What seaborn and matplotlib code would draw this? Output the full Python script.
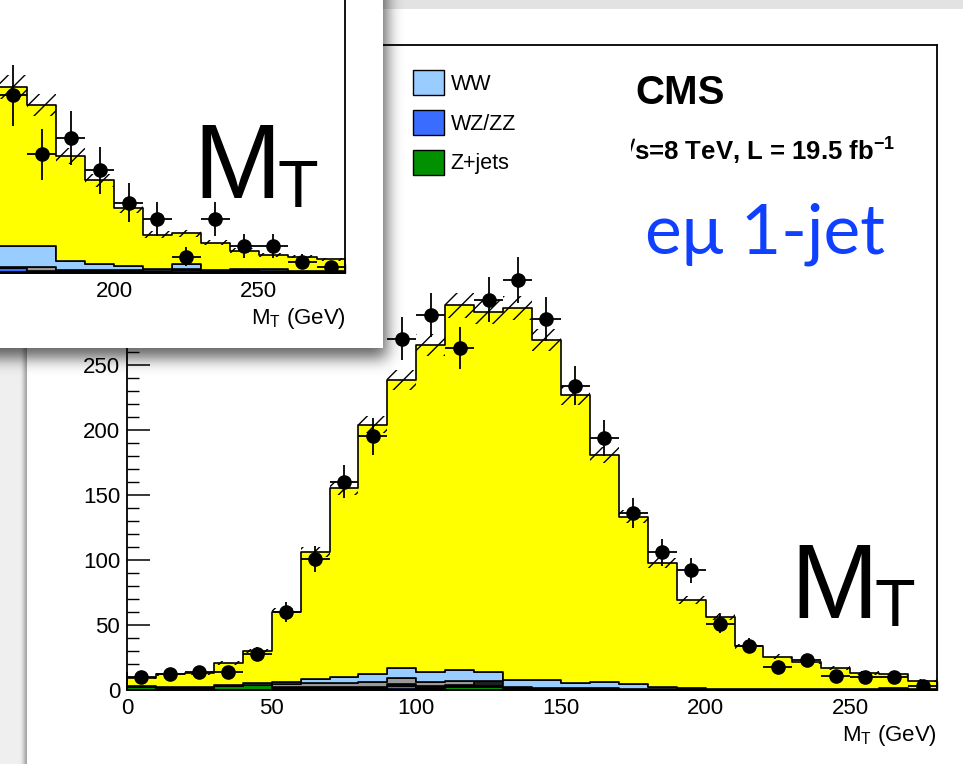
import math
import numpy as np
import pandas as pd
import matplotlib
matplotlib.use("Agg")
import matplotlib.pyplot as plt
from matplotlib.patches import Patch, Rectangle
from matplotlib.transforms import Bbox
import seaborn as sns

# ---------------- data: eμ 1-jet, M_T in 10 GeV bins ----------------
bin_width = 10
mt_low_main = [0, 10, 20, 30, 40, 50, 60, 70, 80, 90, 100, 110, 120, 130,
               140, 150, 160, 170, 180, 190, 200, 210, 220, 230, 240, 250, 260, 270]
data_main = [10, 12, 14, 14, 28, 60, 101, 160, 195, 270, 288, 263, 300, 315,
             285, 234, 194, 136, 106, 92, 51, 34, 18, 23, 11, 10, 10, 3]
data_err_main = [3.2, 3.5, 3.7, 3.7, 5.3, 7.7, 10.0, 12.6, 14.0, 16.4, 17.0, 16.2, 17.3, 17.7,
                 16.9, 15.3, 13.9, 11.7, 10.3, 9.6, 7.1, 5.8, 4.2, 4.8, 3.3, 3.2, 3.2, 1.7]
mc_total_main = [9.5, 12.0, 13.3, 20.5, 30.0, 60.0, 106.0, 155.0, 204.0, 238.5, 265.0, 295.6, 290.5, 293.6,
                 268.7, 226.4, 180.8, 133.3, 97.4, 69.2, 56.4, 33.8, 25.6, 21.8, 17.2, 13.3, 12.3, 7.2]
mc_unc_main = [1.3, 1.3, 1.4, 1.6, 1.8, 2.7, 4.0, 5.3, 6.7, 7.7, 8.4, 9.3, 9.1, 9.2,
               8.5, 7.3, 6.1, 4.7, 3.7, 2.9, 2.6, 1.9, 1.7, 1.6, 1.5, 1.4, 1.3, 1.2]
ww_main = [0.3, 0.3, 0.4, 0.5, 0.8, 1.8, 3.1, 4.6, 6.1, 7.7, 7.4, 8.7, 6.9, 5.2,
           5.9, 3.7, 4.5, 3.3, 1.6, 0.5, 0.4, 0.4, 0.3, 0.3, 0.3, 0.2, 0.2, 0.2]
wjets_main = [0.2, 0.2, 0.2, 0.2, 0.2, 2.0, 2.5, 2.6, 3.9, 4.9, 3.4, 2.6, 0.0, 0.8,
              0.6, 0.4, 0.4, 0.3, 0.3, 0.2, 0.1, 0.1, 0.1, 0.1, 0.1, 0.1, 0.1, 0.1]
other_main = [0.3, 0.3, 0.3, 0.3, 0.3, 0.7, 0.7, 0.6, 0.8, 1.3, 1.2, 1.1, 3.7, 0.8,
              0.5, 0.4, 0.4, 0.3, 0.3, 0.2, 0.2, 0.2, 0.2, 0.2, 0.2, 0.2, 0.2, 0.2]
wzzz_main = [0.2, 0.2, 0.2, 0.2, 0.2, 0.4, 0.4, 0.4, 0.5, 2.8, 0.6, 0.4, 0.4, 0.4,
             0.3, 0.3, 0.3, 0.2, 0.2, 0.1, 0.1, 0.1, 0.1, 0.1, 0.1, 0.1, 0.1, 0.1]
zjets_main = [2.0, 1.5, 1.5, 3.0, 3.5, 1.5, 1.5, 1.5, 1.0, 0.5, 1.0, 2.6, 2.6, 0.5,
              0.4, 0.3, 0.3, 0.3, 0.2, 0.2, 0.2, 0.2, 0.2, 0.2, 0.2, 0.2, 1.2, 0.3]

# ---------------- data: companion panel (upper M_T tail) ----------------
mt_low_inset = [160, 170, 180, 190, 200, 210, 220, 230, 240, 250, 260, 270]
data_inset = [33, 22, 25, 19, 13, 10, 3, 10, 5, 5, 2, 1]
data_err_inset = [5.7, 4.7, 5.0, 4.4, 3.6, 3.2, 1.7, 3.2, 2.2, 2.2, 1.4, 1.0]
mc_total_inset = [34.5, 31.2, 21.7, 17.2, 12.0, 7.1, 7.3, 5.6, 4.1, 3.3, 3.0, 2.5]
mc_unc_inset = [2.3, 2.1, 1.5, 1.2, 0.9, 0.6, 0.6, 0.5, 0.4, 0.35, 0.3, 0.3]
ww_inset = [3.85, 3.85, 1.75, 1.15, 0.85, 0.3, 0.95, 0.2, 0.15, 0.35, 0.05, 0.05]
wjets_inset = [0.1, 0.8, 0.1, 0.1, 0.1, 0.05, 0.1, 0.05, 0.3, 0.1, 0.05, 0.05]
other_inset = [0.1, 0.1, 0.1, 0.1, 0.1, 0.1, 0.1, 0.1, 0.1, 0.1, 0.1, 0.1]
wzzz_inset = [0.9, 0.2, 0.2, 0.2, 0.2, 0.1, 0.5, 0.1, 0.1, 0.1, 0.05, 0.05]
zjets_inset = [0.05, 0.05, 0.05, 0.05, 0.05, 0.05, 0.05, 0.05, 0.05, 0.05, 0.05, 0.05]

process_order = ["top", "WW", "W+jets", "other", "WZ/ZZ", "Z+jets"]
process_colors = {"top": "#ffff00", "WW": "#99ccff", "W+jets": "#999999",
                  "other": "#1e1e1e", "WZ/ZZ": "#3a6cff", "Z+jets": "#009000"}
legend_entries = ["WW", "WZ/ZZ", "Z+jets"]

W, H = 963, 764

sns.set_style("ticks")
plt.rcParams.update({
    "font.family": ["Liberation Sans", "DejaVu Sans"],
    "mathtext.fontset": "custom",
    "mathtext.rm": "Liberation Sans",
    "mathtext.it": "Liberation Sans:italic",
    "mathtext.bf": "Liberation Sans:bold",
    "hatch.linewidth": 1.0,
    "hatch.color": "black",
    "axes.linewidth": 1.3,
    "axes.edgecolor": "black",
    "text.color": "black",
    "axes.labelcolor": "black",
    "xtick.color": "black",
    "ytick.color": "black",
})

fig = plt.figure(figsize=(W / 100, H / 100), dpi=100)
fig.patch.set_facecolor("#efefef")


def px_rect(left, top, right, bottom):
    return [left / W, 1 - bottom / H, (right - left) / W, (bottom - top) / H]


def soft_box(x0, x1, y0, y1, sigma, strength):
    erf = np.vectorize(math.erf)
    xs = np.arange(W) + 0.5
    ys = np.arange(H) + 0.5
    fx = 0.5 * (erf((x1 - xs) / sigma) - erf((x0 - xs) / sigma))
    fy = 0.5 * (erf((y1 - ys) / sigma) - erf((y0 - ys) / sigma))
    img = np.zeros((H, W, 4))
    img[..., 3] = strength * np.outer(fy, fx)
    return img


def pixel_layer(zorder):
    lay = fig.add_axes([0, 0, 1, 1], zorder=zorder)
    lay.set_xlim(0, W)
    lay.set_ylim(H, 0)
    lay.axis("off")
    lay.patch.set_alpha(0)
    return lay


# slide card behind the main plot
bg = pixel_layer(-5)
bg.add_patch(Rectangle((0, 0), W, 9, facecolor="#e2e2e2", edgecolor="none"))
bg.imshow(soft_box(24, 1200, 6, 1200, 3.0, 0.35), extent=(0, W, H, 0), interpolation="bilinear")
bg.add_patch(Rectangle((27, 9), 1000, 1000, facecolor="white", edgecolor="none"))


def draw_panel(ax, low, comps, total, unc, data, err, ymax, major_x):
    centers = [b + bin_width / 2 for b in low]
    edges = list(low) + [low[-1] + bin_width]
    rest = np.sum([comps[k] for k in comps], axis=0)
    comps = dict(comps)
    comps["top"] = list(np.asarray(total) - rest)
    rows = []
    for proc in process_order:
        for c, v in zip(centers, comps[proc]):
            rows.append({"mt": c, "events": v, "process": proc})
    df = pd.DataFrame(rows)
    sns.histplot(data=df, x="mt", weights="events", hue="process", hue_order=process_order,
                 multiple="stack", element="step", bins=edges, palette=process_colors,
                 edgecolor="black", linewidth=1.2, alpha=1.0, legend=False, ax=ax)
    lo = np.asarray(total) - np.asarray(unc)
    hi = np.asarray(total) + np.asarray(unc)
    ax.fill_between(edges, list(lo) + [lo[-1]], list(hi) + [hi[-1]], step="post",
                    facecolor="none", edgecolor="black", hatch="//", linewidth=0, zorder=1.5)
    ax.errorbar(centers, data, yerr=err, xerr=bin_width / 2, fmt="o", color="black",
                ms=9.5, elinewidth=1.3, capsize=0, zorder=3)
    ax.set_xlim(0, 280)
    ax.set_ylim(0, ymax)
    ax.set_facecolor("white")
    ax.set_xticks(major_x)
    ax.set_xticks([t for t in range(0, 281, 10) if t >= major_x[0] - 50], minor=True)
    ax.tick_params(axis="x", which="major", direction="in", length=13, width=1.1,
                   labelsize=16, pad=6, top=False)
    ax.tick_params(axis="x", which="minor", direction="in", length=6.5, width=1.0, top=False)
    ax.set_ylabel("")
    ax.set_xlabel(r"M$_{\mathrm{T}}$ (GeV)", fontsize=16, loc="right", labelpad=3)
    for s in ax.spines.values():
        s.set_visible(True)
        s.set_linewidth(1.3)


# ---------------- main panel ----------------
ax = fig.add_axes(px_rect(127, 45, 937, 690), zorder=1)
draw_panel(ax, mt_low_main,
           {"WW": ww_main, "W+jets": wjets_main, "other": other_main,
            "WZ/ZZ": wzzz_main, "Z+jets": zjets_main},
           mc_total_main, mc_unc_main, data_main, data_err_main, 495.8,
           [0, 50, 100, 150, 200, 250])
ax.set_yticks([0, 50, 100, 150, 200, 250])
ax.set_yticks(range(0, 300, 10), minor=True)
ax.tick_params(axis="y", which="major", direction="in", length=16.5, width=1.1,
               labelsize=16, pad=5, right=False)
ax.tick_params(axis="y", which="minor", direction="in", length=8.5, width=1.0, right=False)

leg_handles = [Patch(facecolor=process_colors[p], edgecolor="black", linewidth=1.0)
               for p in legend_entries]
fig.legend(leg_handles, legend_entries, loc="upper left",
           bbox_to_anchor=(413 / W, 1 - 70 / H), bbox_transform=fig.transFigure,
           frameon=False, fontsize=15.5, handlelength=1.44, handleheight=1.4,
           labelspacing=0.7, handletextpad=0.3, borderpad=0, borderaxespad=0)

fig.text(635 / W, 1 - 104 / H, "CMS", fontsize=29, fontweight="bold", va="baseline", zorder=5)
lumi = fig.text(620 / W, 1 - 161 / H, "√s=8 TeV, L = 19.5 fb$^{\\mathbf{-1}}$",
                fontsize=18.5, fontweight="bold", va="baseline", zorder=5,
                family=["Liberation Sans", "DejaVu Sans"])
lumi.set_clip_box(Bbox.from_extents(631, 0, W, H))
lumi.set_clip_on(True)
fig.text(645 / W, 1 - 253 / H, "eμ 1-jet", fontsize=50, color="#1040ff", va="baseline",
         family=["Lato", "DejaVu Sans"], zorder=5)
fig.text(790 / W, 1 - 618 / H, "M", fontsize=76, va="baseline",
         family=["Liberation Sans"], zorder=5)
fig.text(874 / W, 1 - 626 / H, "T", fontsize=48, va="baseline",
         family=["Liberation Sans"], zorder=5)

# ---------------- companion panel card ----------------
card = pixel_layer(3)
card.imshow(soft_box(-80, 387, -80, 358, 11.0, 0.62), extent=(0, W, H, 0), interpolation="bilinear")
card.add_patch(Rectangle((-5, -5), 388, 353, facecolor="white", edgecolor="none"))

axi = fig.add_axes(px_rect(345.5 - 810, 272.7 - 645, 345.5, 272.7), zorder=4)
draw_panel(axi, mt_low_inset,
           {"WW": ww_inset, "W+jets": wjets_inset, "other": other_inset,
            "WZ/ZZ": wzzz_inset, "Z+jets": zjets_inset},
           mc_total_inset, mc_unc_inset, data_inset, data_err_inset, 119.9,
           [200, 250])
axi.set_yticks([])
axi.tick_params(axis="y", which="both", left=False, right=False)
axi.text(193, 198, "M", transform=card.transData, fontsize=76, va="baseline",
         family=["Liberation Sans"], zorder=5)
axi.text(277, 207, "T", transform=card.transData, fontsize=48, va="baseline",
         family=["Liberation Sans"], zorder=5)

fig.savefig("out.png", dpi=100, facecolor=fig.get_facecolor())
